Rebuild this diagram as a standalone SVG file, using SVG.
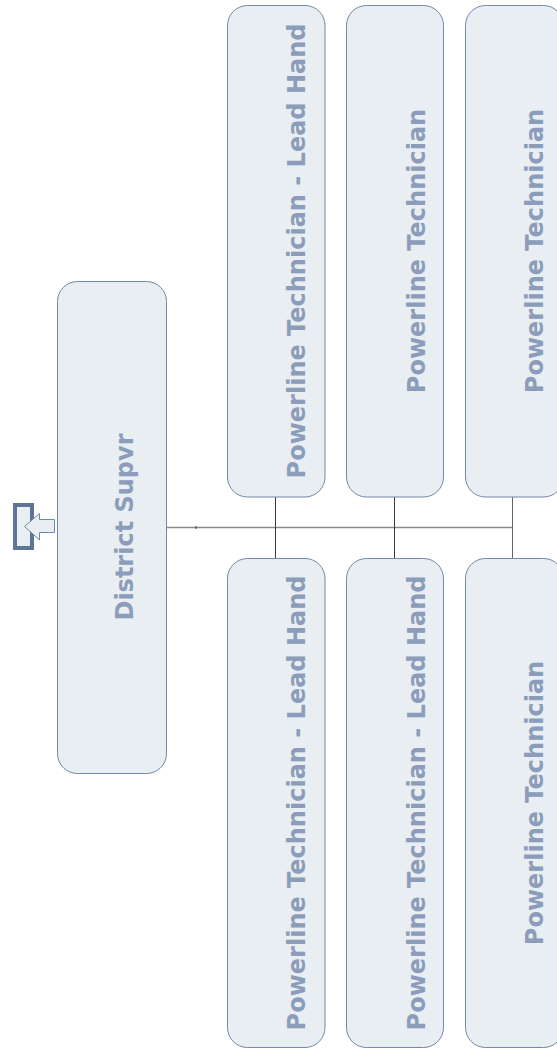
<svg xmlns="http://www.w3.org/2000/svg" width="557" height="1049" viewBox="0 0 557 1049">
<style>
.box{fill:#e9eef2;stroke:#7088aa;stroke-width:1}
.lbl{font-family:"DejaVu Sans",Verdana,sans-serif;font-weight:bold;font-size:24px;fill:#8b9dba;text-anchor:middle}
.hline{stroke:#8a8a8a;stroke-width:1.5;fill:none}
.vline{stroke:#3a3a3a;stroke-width:1;fill:none}
</style>
<rect width="557" height="1049" fill="#ffffff"/>
<g id="connectors">
<line class="hline" x1="167" y1="527.5" x2="513" y2="527.5"/>
<line class="vline" x1="196" y1="526" x2="196" y2="529"/>
<line class="vline" x1="275.5" y1="497" x2="275.5" y2="558"/>
<line class="vline" x1="394.5" y1="497" x2="394.5" y2="558"/>
<line class="vline" x1="512.5" y1="497" x2="512.5" y2="558" style="stroke:#666"/>
</g>
<g id="up-icon">
<rect x="15" y="505" width="17" height="43" fill="#e9eef2" stroke="#5f7595" stroke-width="4"/>
<polygon points="24.5,526.5 39.5,513.5 39.5,519.5 54.5,519.5 54.5,532.5 39.5,532.5 39.5,540" fill="#e9eef2" stroke="#6f87a8" stroke-width="1"/>
</g>
<g id="district-supvr">
<rect class="box" x="57.5" y="281.5" width="109" height="492" rx="20"/>
<text class="lbl" transform="translate(133,527) rotate(-90)">District Supvr</text>
</g>
<g id="top-1">
<rect class="box" x="227.5" y="5.5" width="97.5" height="491.5" rx="20"/>
<text class="lbl" transform="translate(305,251) rotate(-90)">Powerline Technician - Lead Hand</text>
</g>
<g id="top-2">
<rect class="box" x="346.5" y="5.5" width="97" height="491.5" rx="20"/>
<text class="lbl" transform="translate(425,251) rotate(-90)">Powerline Technician</text>
</g>
<g id="top-3">
<rect class="box" x="465.5" y="5.5" width="98" height="491.5" rx="20"/>
<text class="lbl" transform="translate(543,251) rotate(-90)">Powerline Technician</text>
</g>
<g id="bottom-1">
<rect class="box" x="227.5" y="558.5" width="97.5" height="489" rx="20"/>
<text class="lbl" transform="translate(305,803) rotate(-90)">Powerline Technician - Lead Hand</text>
</g>
<g id="bottom-2">
<rect class="box" x="346.5" y="558.5" width="97" height="489" rx="20"/>
<text class="lbl" transform="translate(425,803) rotate(-90)">Powerline Technician - Lead Hand</text>
</g>
<g id="bottom-3">
<rect class="box" x="465.5" y="558.5" width="98" height="489" rx="20"/>
<text class="lbl" transform="translate(543,803) rotate(-90)">Powerline Technician</text>
</g>
</svg>
